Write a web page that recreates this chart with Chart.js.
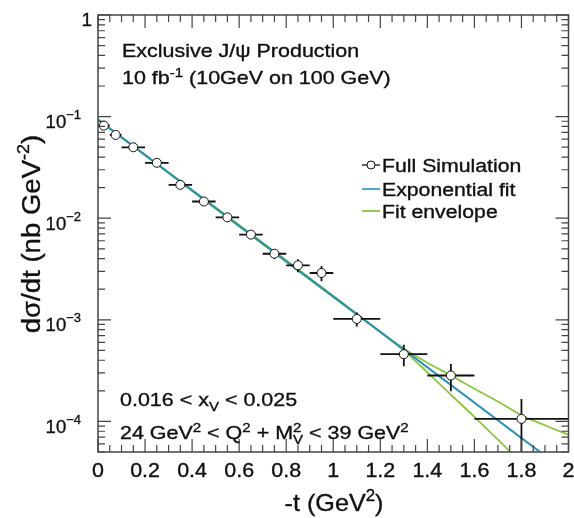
<!DOCTYPE html>
<html>
<head>
<meta charset="utf-8">
<script src="https://cdn.jsdelivr.net/npm/chart.js@4/dist/chart.umd.min.js"></script>
<style>
  html, body { margin: 0; padding: 0; background: #ffffff; }
  #wrap { width: 574px; height: 518px; }
</style>
</head>
<body>
<div id="wrap"><canvas id="c" width="574" height="518"></canvas></div>
<script>
// -t bin centres and half-widths (GeV^2)
const tCenter    = [0.025, 0.075, 0.15, 0.25, 0.35, 0.45, 0.55, 0.65, 0.75, 0.85, 0.95, 1.1, 1.3, 1.5, 1.8];
const tHalfWidth = [0.025, 0.025, 0.05, 0.05, 0.05, 0.05, 0.05, 0.05, 0.05, 0.05, 0.05, 0.1, 0.1, 0.1, 0.2];
// dsigma/dt in nb GeV^-2 and its statistical uncertainty
const dsdt    = [0.0815, 0.066, 0.0499, 0.0351, 0.0213, 0.0146, 0.0102, 0.0069, 0.00447, 0.00344, 0.00289, 0.00102, 0.000459, 0.000283, 0.000106];
const dsdtErr = [0.0025, 0.0021, 0.0016, 0.0012, 0.0008, 0.0006, 0.00045, 0.0003, 0.0005, 0.0005, 0.0005, 0.00016, 0.00011, 0.000085, 0.00006];

// exponential fit, end points of the curve
const fitT   = [0, 2];
const fitVal = [0.0933, 3.08e-5];

// fit envelope (upper and lower edge)
const envUpperT = [0, 1.2, 1.3, 1.4, 1.5, 1.6, 1.7, 1.8, 1.9, 2.0];
const envUpper  = [0.0933, 7.60e-4, 5.21e-4, 3.78e-4, 2.84e-4, 2.10e-4, 1.57e-4, 1.15e-4, 9.16e-5, 7.38e-5];
const envLowerT = [0, 1.2, 1.3, 1.4, 1.5, 1.6, 1.7, 1.8];
const envLower  = [0.0933, 7.60e-4, 4.98e-4, 3.04e-4, 1.83e-4, 1.11e-4, 6.61e-5, 3.90e-5];

// axis ticks and labels
const xMajorTicks  = [0, 0.2, 0.4, 0.6, 0.8, 1, 1.2, 1.4, 1.6, 1.8, 2];
const xTickLabels  = ['0', '0.2', '0.4', '0.6', '0.8', '1', '1.2', '1.4', '1.6', '1.8', '2'];
const yDecades     = [1, 0.1, 0.01, 0.001, 0.0001];
const yTickLabels  = [['1', ''], ['10', '\u22121'], ['10', '\u22122'], ['10', '\u22123'], ['10', '\u22124']];

const legendLabels = ['Full Simulation', 'Exponential fit', 'Fit envelope'];

const FONT = '"Liberation Sans", Arial, Helvetica, sans-serif';
const INK = '#111111';
const BLUE = '#2a90b4';
const GREEN = '#8cc63f';

function font(size) { return size + 'px ' + FONT; }

// rich text: parts are {t, s, dy} or {sup, sub, s, supDy, subDy}
function partWidth(ctx, p) {
  ctx.font = font(p.s);
  if (p.t !== undefined) return ctx.measureText(p.t).width;
  return Math.max(ctx.measureText(p.sup).width, ctx.measureText(p.sub).width);
}
function drawRich(ctx, parts, x, y, opt) {
  opt = opt || {};
  const sx = opt.sx || 1;
  const align = opt.align || 'left';
  let total = 0;
  parts.forEach(p => total += partWidth(ctx, p));
  ctx.save();
  ctx.translate(x, y);
  if (opt.rotate) ctx.rotate(opt.rotate);
  ctx.scale(sx, 1);
  let cx = 0;
  if (align === 'center') cx = -total / 2;
  else if (align === 'right') cx = -total;
  ctx.fillStyle = INK;
  ctx.strokeStyle = INK;
  ctx.lineWidth = 0.35;
  ctx.textAlign = 'left';
  ctx.textBaseline = 'alphabetic';
  const put = (s, px, py) => { ctx.fillText(s, px, py); ctx.strokeText(s, px, py); };
  parts.forEach(p => {
    ctx.font = font(p.s);
    const w = partWidth(ctx, p);
    if (p.t !== undefined) {
      put(p.t, cx, p.dy || 0);
    } else {
      put(p.sup, cx, p.supDy);
      put(p.sub, cx, p.subDy);
    }
    cx += w;
  });
  ctx.restore();
}

const rootStyle = {
  id: 'rootStyle',
  beforeDatasetDraw(chart, args) {
    // error bars under the open markers
    if (args.index !== 0) return;
    const { ctx, chartArea: a, scales: { x, y } } = chart;
    ctx.save();
    ctx.beginPath();
    ctx.rect(a.left, a.top, a.right - a.left, a.bottom - a.top);
    ctx.clip();
    ctx.strokeStyle = INK;
    ctx.lineWidth = 1.8;
    for (let i = 0; i < tCenter.length; i++) {
      const px = x.getPixelForValue(tCenter[i]);
      const py = y.getPixelForValue(dsdt[i]);
      const x0 = x.getPixelForValue(tCenter[i] - tHalfWidth[i]);
      const x1 = x.getPixelForValue(tCenter[i] + tHalfWidth[i]);
      const lo = Math.max(dsdt[i] - dsdtErr[i], 1e-9);
      const y0 = y.getPixelForValue(dsdt[i] + dsdtErr[i]);
      const y1 = y.getPixelForValue(lo);
      ctx.beginPath();
      ctx.moveTo(x0, py); ctx.lineTo(x1, py);
      ctx.moveTo(px, y0); ctx.lineTo(px, y1);
      ctx.stroke();
    }
    ctx.restore();
  },
  afterDraw(chart) {
    const { ctx, chartArea: a, scales: { x, y } } = chart;
    ctx.save();
    // frame
    ctx.strokeStyle = '#444444';
    ctx.lineWidth = 1.5;
    ctx.strokeRect(a.left, a.top, a.right - a.left, a.bottom - a.top);
    // x ticks (inside, bottom and top)
    ctx.lineWidth = 1.2;
    ctx.beginPath();
    for (let i = 0; i <= 40; i++) {
      const v = i * 0.05;
      const px = x.getPixelForValue(v);
      const len = (i % 4 === 0) ? 13 : 7;
      ctx.moveTo(px, a.bottom); ctx.lineTo(px, a.bottom - len);
      ctx.moveTo(px, a.top); ctx.lineTo(px, a.top + len);
    }
    // y ticks (log, inside, left and right)
    for (let e = -5; e <= 0; e++) {
      for (let m = 1; m <= 9; m++) {
        const v = m * Math.pow(10, e);
        if (v < y.min || v > y.max) continue;
        const py = y.getPixelForValue(v);
        const len = (m === 1) ? 13 : 7;
        ctx.moveTo(a.left, py); ctx.lineTo(a.left + len, py);
        ctx.moveTo(a.right, py); ctx.lineTo(a.right - len, py);
      }
    }
    ctx.stroke();
    ctx.restore();

    // x tick labels
    xMajorTicks.forEach((v, i) => {
      drawRich(ctx, [{ t: xTickLabels[i], s: 19.5 }], x.getPixelForValue(v), 477, { align: 'center', sx: 1.1 });
    });
    // y tick labels
    yDecades.forEach((v, i) => {
      const py = y.getPixelForValue(v);
      const [base, exp] = yTickLabels[i];
      if (!exp) {
        drawRich(ctx, [{ t: base, s: 19 }], 92, py + 11, { align: 'right' });
      } else {
        drawRich(ctx, [{ t: base, s: 18.5 }, { t: exp, s: 13, dy: -9 }], 81, py + 11.5, { align: 'right' });
      }
    });

    // axis titles
    drawRich(ctx, [{ t: '-t (GeV', s: 24 }, { t: '2', s: 16, dy: -10 }, { t: ')', s: 24 }], 334, 511, { align: 'center', sx: 1.05 });
    drawRich(ctx, [{ t: 'd\u03c3/dt (nb GeV', s: 26 }, { t: '-2', s: 17, dy: -11 }, { t: ')', s: 26 }], 40, 234,
      { align: 'center', rotate: -Math.PI / 2, sx: 1.06 });

    // annotations
    const SX = 1.16;
    const S = 18.5, SS = 13;
    drawRich(ctx, [{ t: 'Exclusive J/\u03c8 Production', s: S }], 122, 57, { sx: SX });
    drawRich(ctx, [{ t: '10 fb', s: S }, { t: '-1', s: SS, dy: -7.5 }, { t: ' (10GeV on 100 GeV)', s: S }], 122, 84, { sx: SX });
    drawRich(ctx, [{ t: '0.016 < x', s: S }, { t: 'V', s: SS, dy: 5 }, { t: ' < 0.025', s: S }], 120, 406, { sx: SX });
    drawRich(ctx, [
      { t: '24 GeV', s: S }, { t: '2', s: SS, dy: -7.5 }, { t: ' < Q', s: S }, { t: '2', s: SS, dy: -7.5 },
      { t: ' + M', s: S }, { sup: '2', sub: 'V', s: SS, supDy: -7.5, subDy: 5 }, { t: ' < 39 GeV', s: S }, { t: '2', s: SS, dy: -7.5 }
    ], 120, 439, { sx: SX });

    // legend
    const rows = [165, 189, 211];
    const ds = chart.data.datasets;
    ctx.save();
    rows.forEach((ry, i) => {
      ctx.lineWidth = i === 0 ? 1.3 : 1.8;
      ctx.strokeStyle = i === 0 ? INK : (i === 1 ? '#3a9fd0' : ds[2].borderColor);
      ctx.beginPath();
      ctx.moveTo(362, ry); ctx.lineTo(380, ry);
      ctx.stroke();
      if (i === 0) {
        ctx.beginPath();
        ctx.arc(371, ry, 4, 0, Math.PI * 2);
        ctx.fillStyle = '#ffffff';
        ctx.fill();
        ctx.lineWidth = 1;
        ctx.stroke();
      }
      drawRich(ctx, [{ t: legendLabels[i], s: 18 }], 382, ry + 6.5, { sx: 1.18 });
    });
    ctx.restore();
  }
};

const toXY = (xs, ys) => xs.map((v, i) => ({ x: v, y: ys[i] }));

new Chart(document.getElementById('c'), {
  type: 'scatter',
  data: {
    datasets: [
      {
        label: legendLabels[0],
        data: toXY(tCenter, dsdt),
        showLine: false,
        pointRadius: 4.5,
        pointBackgroundColor: '#ffffff',
        pointBorderColor: INK,
        pointBorderWidth: 1,
        order: 0
      },
      {
        label: legendLabels[1],
        data: toXY(fitT, fitVal),
        showLine: true,
        borderColor: BLUE,
        borderWidth: 2,
        pointRadius: 0,
        order: 1
      },
      {
        label: legendLabels[2],
        data: toXY(envUpperT, envUpper),
        showLine: true,
        borderColor: GREEN,
        borderWidth: 1.8,
        pointRadius: 0,
        cubicInterpolationMode: 'monotone',
        order: 2
      },
      {
        label: legendLabels[2],
        data: toXY(envLowerT, envLower),
        showLine: true,
        borderColor: GREEN,
        borderWidth: 1.8,
        pointRadius: 0,
        cubicInterpolationMode: 'monotone',
        order: 2
      }
    ]
  },
  options: {
    responsive: false,
    devicePixelRatio: 1,
    animation: false,
    layout: { padding: { left: 98, right: 4, top: 15, bottom: 66 } },
    scales: {
      x: { type: 'linear', min: 0, max: 2, display: false },
      y: { type: 'logarithmic', min: 5e-5, max: 1, display: false }
    },
    plugins: { legend: { display: false }, tooltip: { enabled: false } }
  },
  plugins: [rootStyle]
});
</script>
</body>
</html>
